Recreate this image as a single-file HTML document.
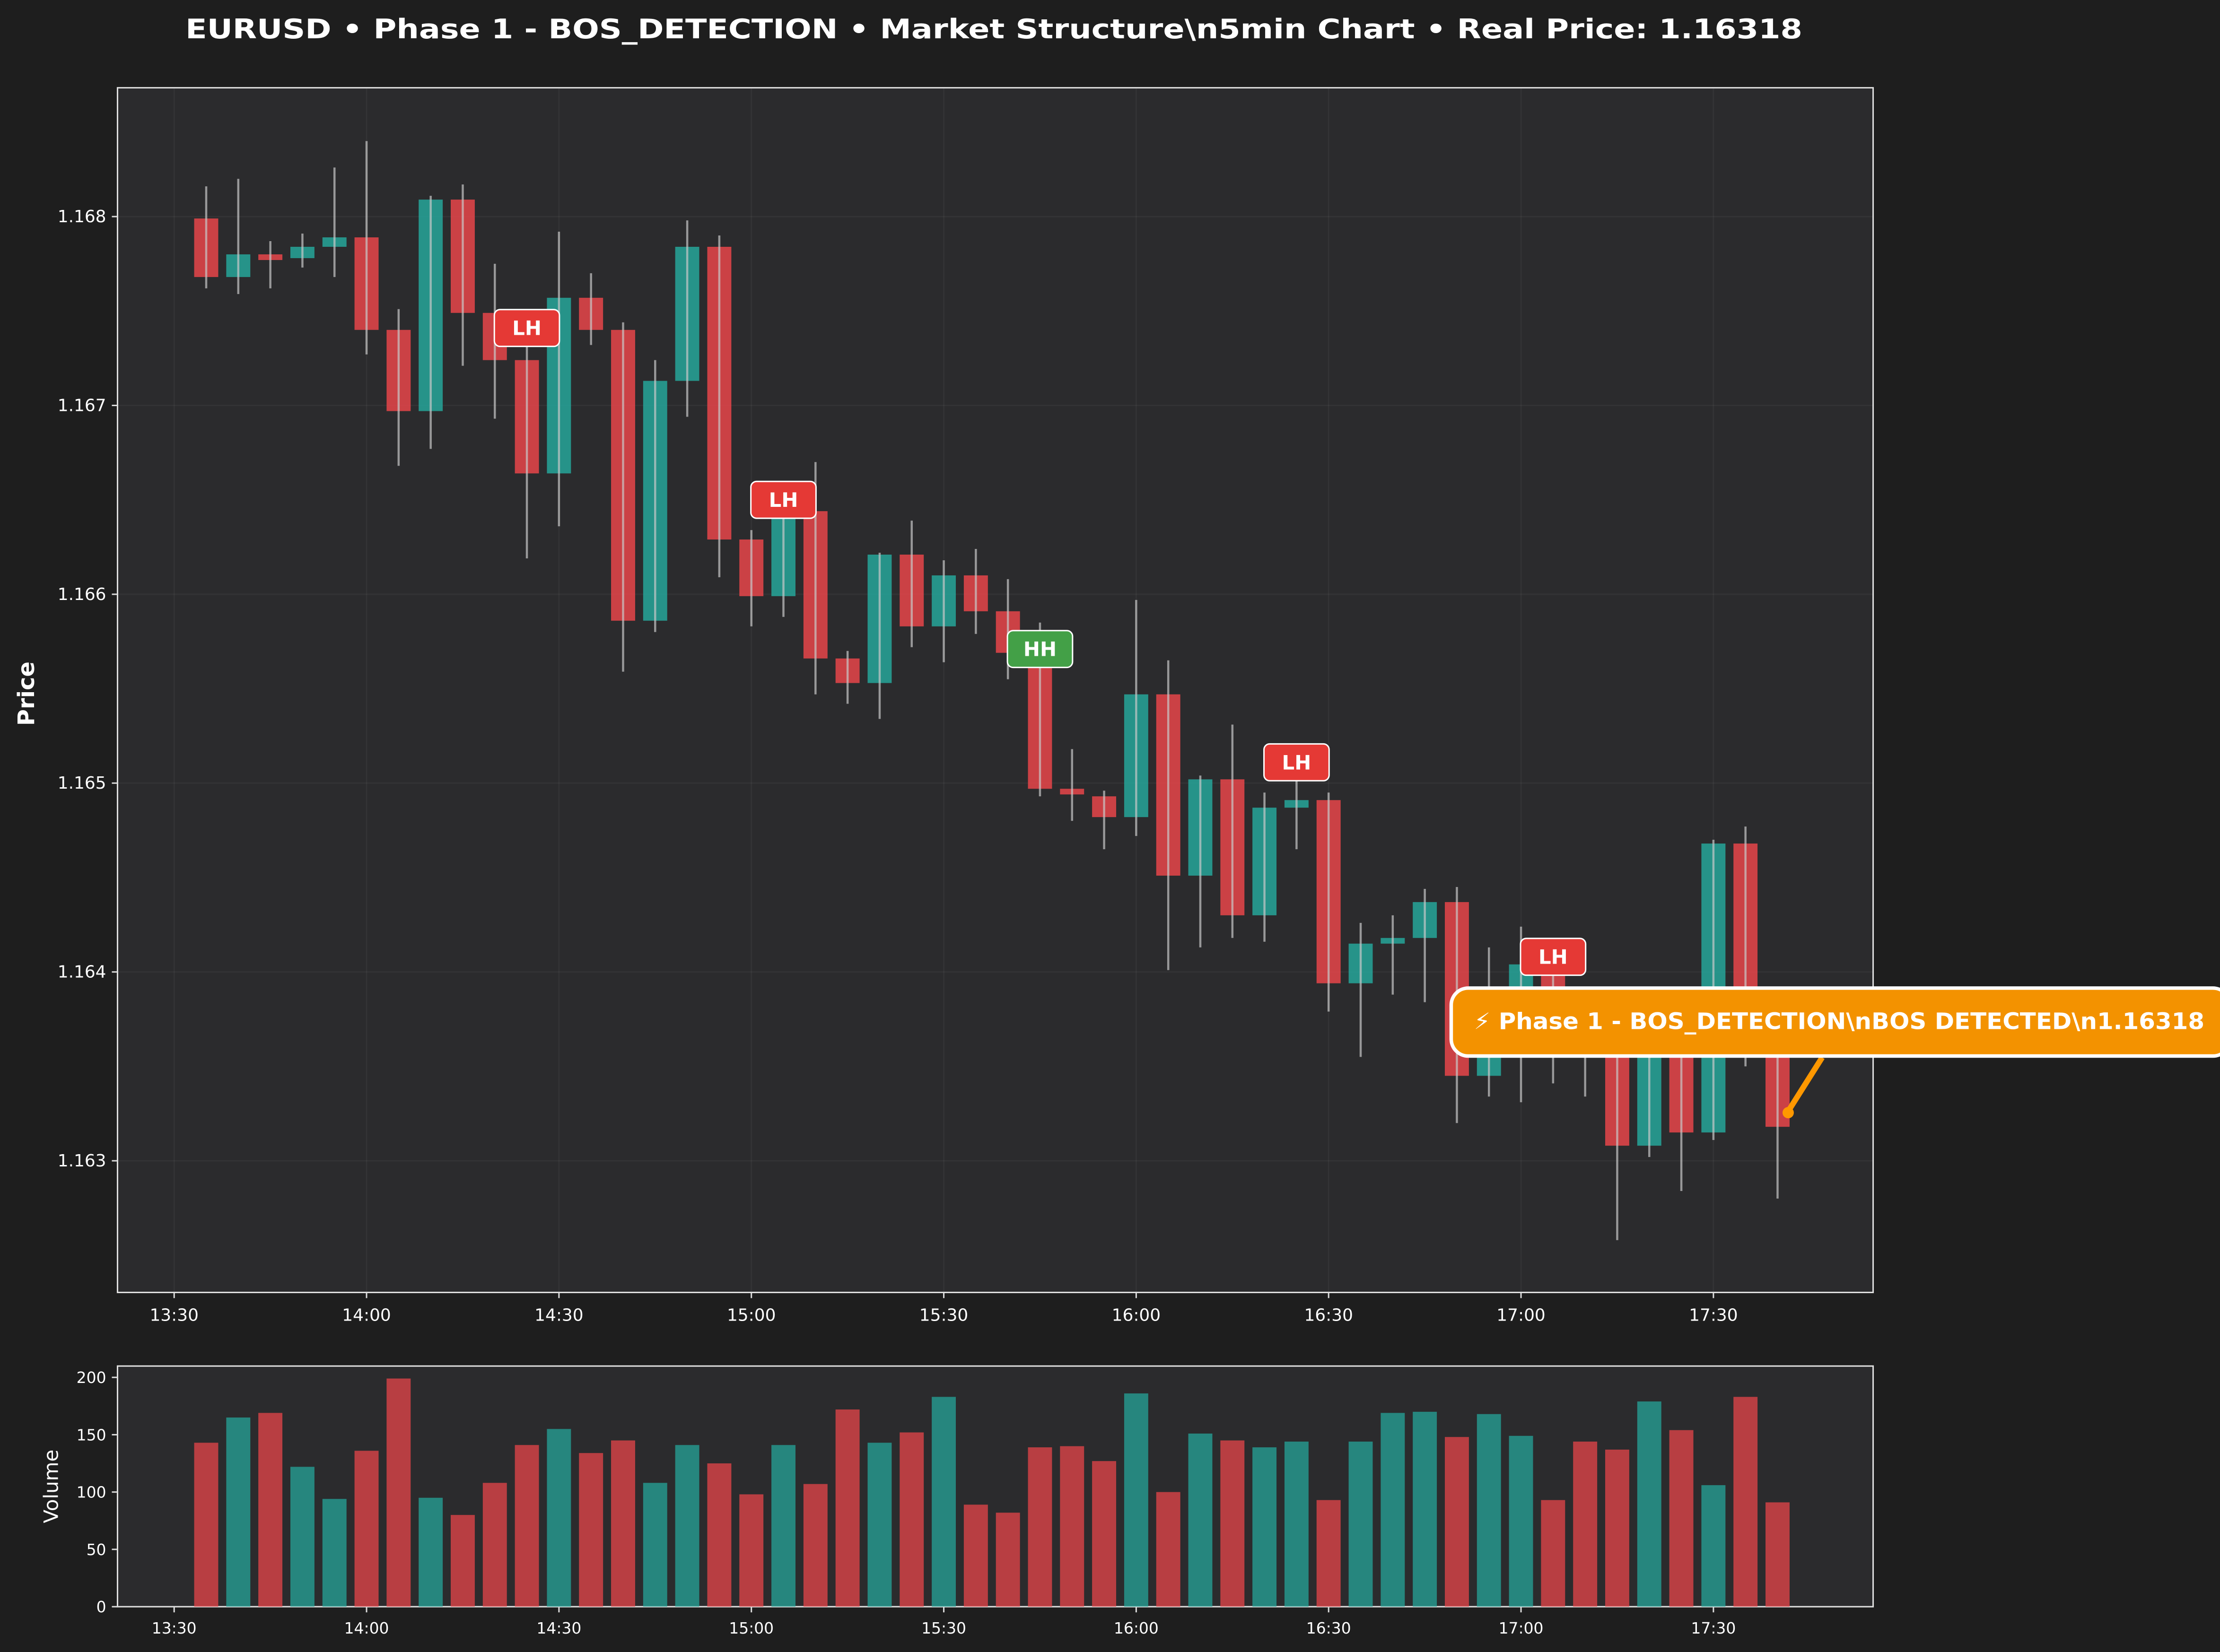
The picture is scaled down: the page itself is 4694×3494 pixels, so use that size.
<!DOCTYPE html>
<html><head><meta charset="utf-8">
<style>
html,body{margin:0;padding:0;background:#1e1e1e;}
svg{display:block;font-family:"DejaVu Sans","Liberation Sans",sans-serif;}
</style></head>
<body>
<svg id="chart" width="4694" height="3494" viewBox="0 0 1568 1167" preserveAspectRatio="none" xmlns="http://www.w3.org/2000/svg">
<rect x="0" y="0" width="1568" height="1167" fill="#1e1e1e"/>
<text x="702" y="27" fill="#ffffff" font-size="19" font-weight="bold" text-anchor="middle" textLength="1142" lengthAdjust="spacingAndGlyphs">EURUSD • Phase 1 - BOS_DETECTION • Market Structure\n5min Chart • Real Price: 1.16318</text>
<rect x="83" y="62" width="1240" height="851" fill="#2b2b2d" stroke="#e0e0e0" stroke-width="1"/>
<rect x="83" y="965" width="1240" height="170" fill="#2b2b2d" stroke="#e0e0e0" stroke-width="1"/>
<g id="grid"></g>
<g id="vol"></g>
<g id="candles"></g>
<g id="axes"></g>
<g id="labels"></g>
<text transform="translate(24,490) rotate(-90)" fill="#ffffff" font-size="16" font-weight="bold" text-anchor="middle">Price</text>
<text transform="translate(41,1050) rotate(-90)" fill="#ffffff" font-size="14" text-anchor="middle">Volume</text>
<g>
<line x1="1287" y1="747" x2="1263" y2="785" stroke="#ff9800" stroke-width="4"/>
<circle cx="1263" cy="786" r="4" fill="#ff9800"/>
<rect x="1025" y="698" width="550" height="48" rx="12" fill="#f39200" stroke="#ffffff" stroke-width="2.5"/>
<text x="1041" y="727" fill="#ffffff" font-size="16" font-weight="bold" textLength="516" lengthAdjust="spacingAndGlyphs">⚡ Phase 1 - BOS_DETECTION\nBOS DETECTED\n1.16318</text>
</g>
</svg>
<script>
const times = ["13:35","13:40","13:45","13:50","13:55","14:00","14:05","14:10","14:15","14:20","14:25","14:30","14:35","14:40","14:45","14:50","14:55","15:00","15:05","15:10","15:15","15:20","15:25","15:30","15:35","15:40","15:45","15:50","15:55","16:00","16:05","16:10","16:15","16:20","16:25","16:30","16:35","16:40","16:45","16:50","16:55","17:00","17:05","17:10","17:15","17:20","17:25","17:30","17:35","17:40"];
const opens = [1.16799,1.16768,1.1678,1.16778,1.16784,1.16789,1.1674,1.16697,1.16809,1.16749,1.16724,1.16664,1.16757,1.1674,1.16586,1.16713,1.16784,1.16629,1.16599,1.16644,1.16566,1.16553,1.16621,1.16583,1.1661,1.16591,1.16569,1.16497,1.16493,1.16482,1.16547,1.16451,1.16502,1.1643,1.16487,1.16491,1.16394,1.16415,1.16418,1.16437,1.16345,1.16368,1.16404,1.1638,1.16368,1.16308,1.16365,1.16315,1.16468,1.16368];
const closes = [1.16768,1.1678,1.16777,1.16784,1.16789,1.1674,1.16697,1.16809,1.16749,1.16724,1.16664,1.16757,1.1674,1.16586,1.16713,1.16784,1.16629,1.16599,1.1664,1.16566,1.16553,1.16621,1.16583,1.1661,1.16591,1.16569,1.16497,1.16494,1.16482,1.16547,1.16451,1.16502,1.1643,1.16487,1.16491,1.16394,1.16415,1.16418,1.16437,1.16345,1.16368,1.16404,1.1638,1.1636,1.16308,1.16365,1.16315,1.16468,1.16368,1.16318];
const highs = [1.16816,1.1682,1.16787,1.16791,1.16826,1.1684,1.16751,1.16811,1.16817,1.16775,1.16751,1.16792,1.1677,1.16744,1.16724,1.16798,1.1679,1.16634,1.1666,1.1667,1.1657,1.16622,1.16639,1.16618,1.16624,1.16608,1.16585,1.16518,1.16496,1.16597,1.16565,1.16504,1.16531,1.16495,1.16518,1.16495,1.16426,1.1643,1.16444,1.16445,1.16413,1.16424,1.16418,1.1639,1.1638,1.1638,1.1638,1.1647,1.16477,1.1638];
const lows = [1.16762,1.16759,1.16762,1.16773,1.16768,1.16727,1.16668,1.16677,1.16721,1.16693,1.16619,1.16636,1.16732,1.16559,1.1658,1.16694,1.16609,1.16583,1.16588,1.16547,1.16542,1.16534,1.16572,1.16564,1.16579,1.16555,1.16493,1.1648,1.16465,1.16472,1.16401,1.16413,1.16418,1.16416,1.16465,1.16379,1.16355,1.16388,1.16384,1.1632,1.16334,1.16331,1.16341,1.16334,1.16258,1.16302,1.16284,1.16311,1.1635,1.1628];
const volumes = [143,165,169,122,94,136,199,95,80,108,141,155,134,145,108,141,125,98,141,107,172,143,152,183,89,82,139,140,127,186,100,151,145,139,144,93,144,169,170,148,168,149,93,144,137,179,154,106,183,91];
const priceTicks = [1.163,1.164,1.165,1.166,1.167,1.168];
const timeTicks = ["13:30","14:00","14:30","15:00","15:30","16:00","16:30","17:00","17:30"];
const volTicks = [0,50,100,150,200];
const markerIdx = [10,18,26,34,42];
const markerText = ["LH","LH","HH","LH","LH"];
const markerPrice = [1.16741,1.1665,1.16571,1.16511,1.16408];

const NS="http://www.w3.org/2000/svg";
function tmin(t){const p=t.split(":");return +p[0]*60+ +p[1];}
const x=t=>123+(tmin(t)-810)*(135.9/30);
const y=p=>153+(1.168-p)*133400;
const vy=v=>1135-v*0.81;
function mk(tag,attrs,parent){const e=document.createElementNS(NS,tag);for(const k in attrs)e.setAttribute(k,attrs[k]);parent.appendChild(e);return e;}
const G=document.getElementById("grid"),V=document.getElementById("vol"),C=document.getElementById("candles"),A=document.getElementById("axes"),L=document.getElementById("labels");
const RED="#e8454a",TEAL="#26a69a";

priceTicks.forEach(p=>{
 const gl=mk("line",{x1:83,x2:1323,y1:y(p),y2:y(p),stroke:"#ffffff","stroke-opacity":0.04},G);
 
 
 mk("line",{x1:79,x2:83,y1:y(p),y2:y(p),stroke:"#ddd"},A);
 const t=mk("text",{x:75,y:y(p)+4,fill:"#fff","font-size":12,"text-anchor":"end"},A);t.textContent=p.toFixed(3);
 
 
});
timeTicks.forEach(tt=>{
 const xx=x(tt);
 const gl=mk("line",{x1:xx,x2:xx,y1:62,y2:913,stroke:"#ffffff","stroke-opacity":0.04},G);
 
 
 mk("line",{x1:xx,x2:xx,y1:913,y2:917,stroke:"#ddd"},A);
 mk("line",{x1:xx,x2:xx,y1:1135,y2:1139,stroke:"#ddd"},A);
 const t=mk("text",{x:xx,y:933,fill:"#fff","font-size":12,"text-anchor":"middle"},A);t.textContent=tt;
 
 
 const t2=mk("text",{x:xx,y:1154,fill:"#fff","font-size":11,"text-anchor":"middle"},A);t2.textContent=tt;
 
 
});
volTicks.forEach(v=>{
 mk("line",{x1:79,x2:83,y1:vy(v),y2:vy(v),stroke:"#ddd"},A);
 const t=mk("text",{x:75,y:vy(v)+4,fill:"#fff","font-size":11,"text-anchor":"end"},A);t.textContent=v;
 
 
});
times.forEach((tt,i)=>{
 const xx=x(tt),up=closes[i]>=opens[i],col=up?TEAL:RED;
 const vb=mk("rect",{x:xx-8.5,y:vy(volumes[i]),width:17,height:volumes[i]*0.81,fill:col,"fill-opacity":0.75},V);
 
 
 const top=y(Math.max(opens[i],closes[i])),bot=y(Math.min(opens[i],closes[i]));
 const body=mk("rect",{x:xx-8.5,y:top,width:17,height:Math.max(bot-top,1.5),fill:col,"fill-opacity":0.85},C);
 
 
 const w=mk("line",{x1:xx,x2:xx,y1:y(highs[i]),y2:y(lows[i]),stroke:"#c8c8c8","stroke-opacity":0.7,"stroke-width":1.5},C);
 
 
});
markerIdx.forEach((idx,k)=>{
 const xx=x(times[idx]),yy=y(markerPrice[k]);
 const hh=markerText[k]==="HH";
 const r=mk("rect",{x:xx-23,y:yy-13,width:46,height:26,rx:4,fill:hh?"#43a047":"#e53935",stroke:"#fff","stroke-width":1},L);
 
 
 const t=mk("text",{x:xx,y:yy+5,fill:"#fff","font-size":14,"font-weight":"bold","text-anchor":"middle"},L);t.textContent=markerText[k];
 
 
});
</script>
</body></html>
